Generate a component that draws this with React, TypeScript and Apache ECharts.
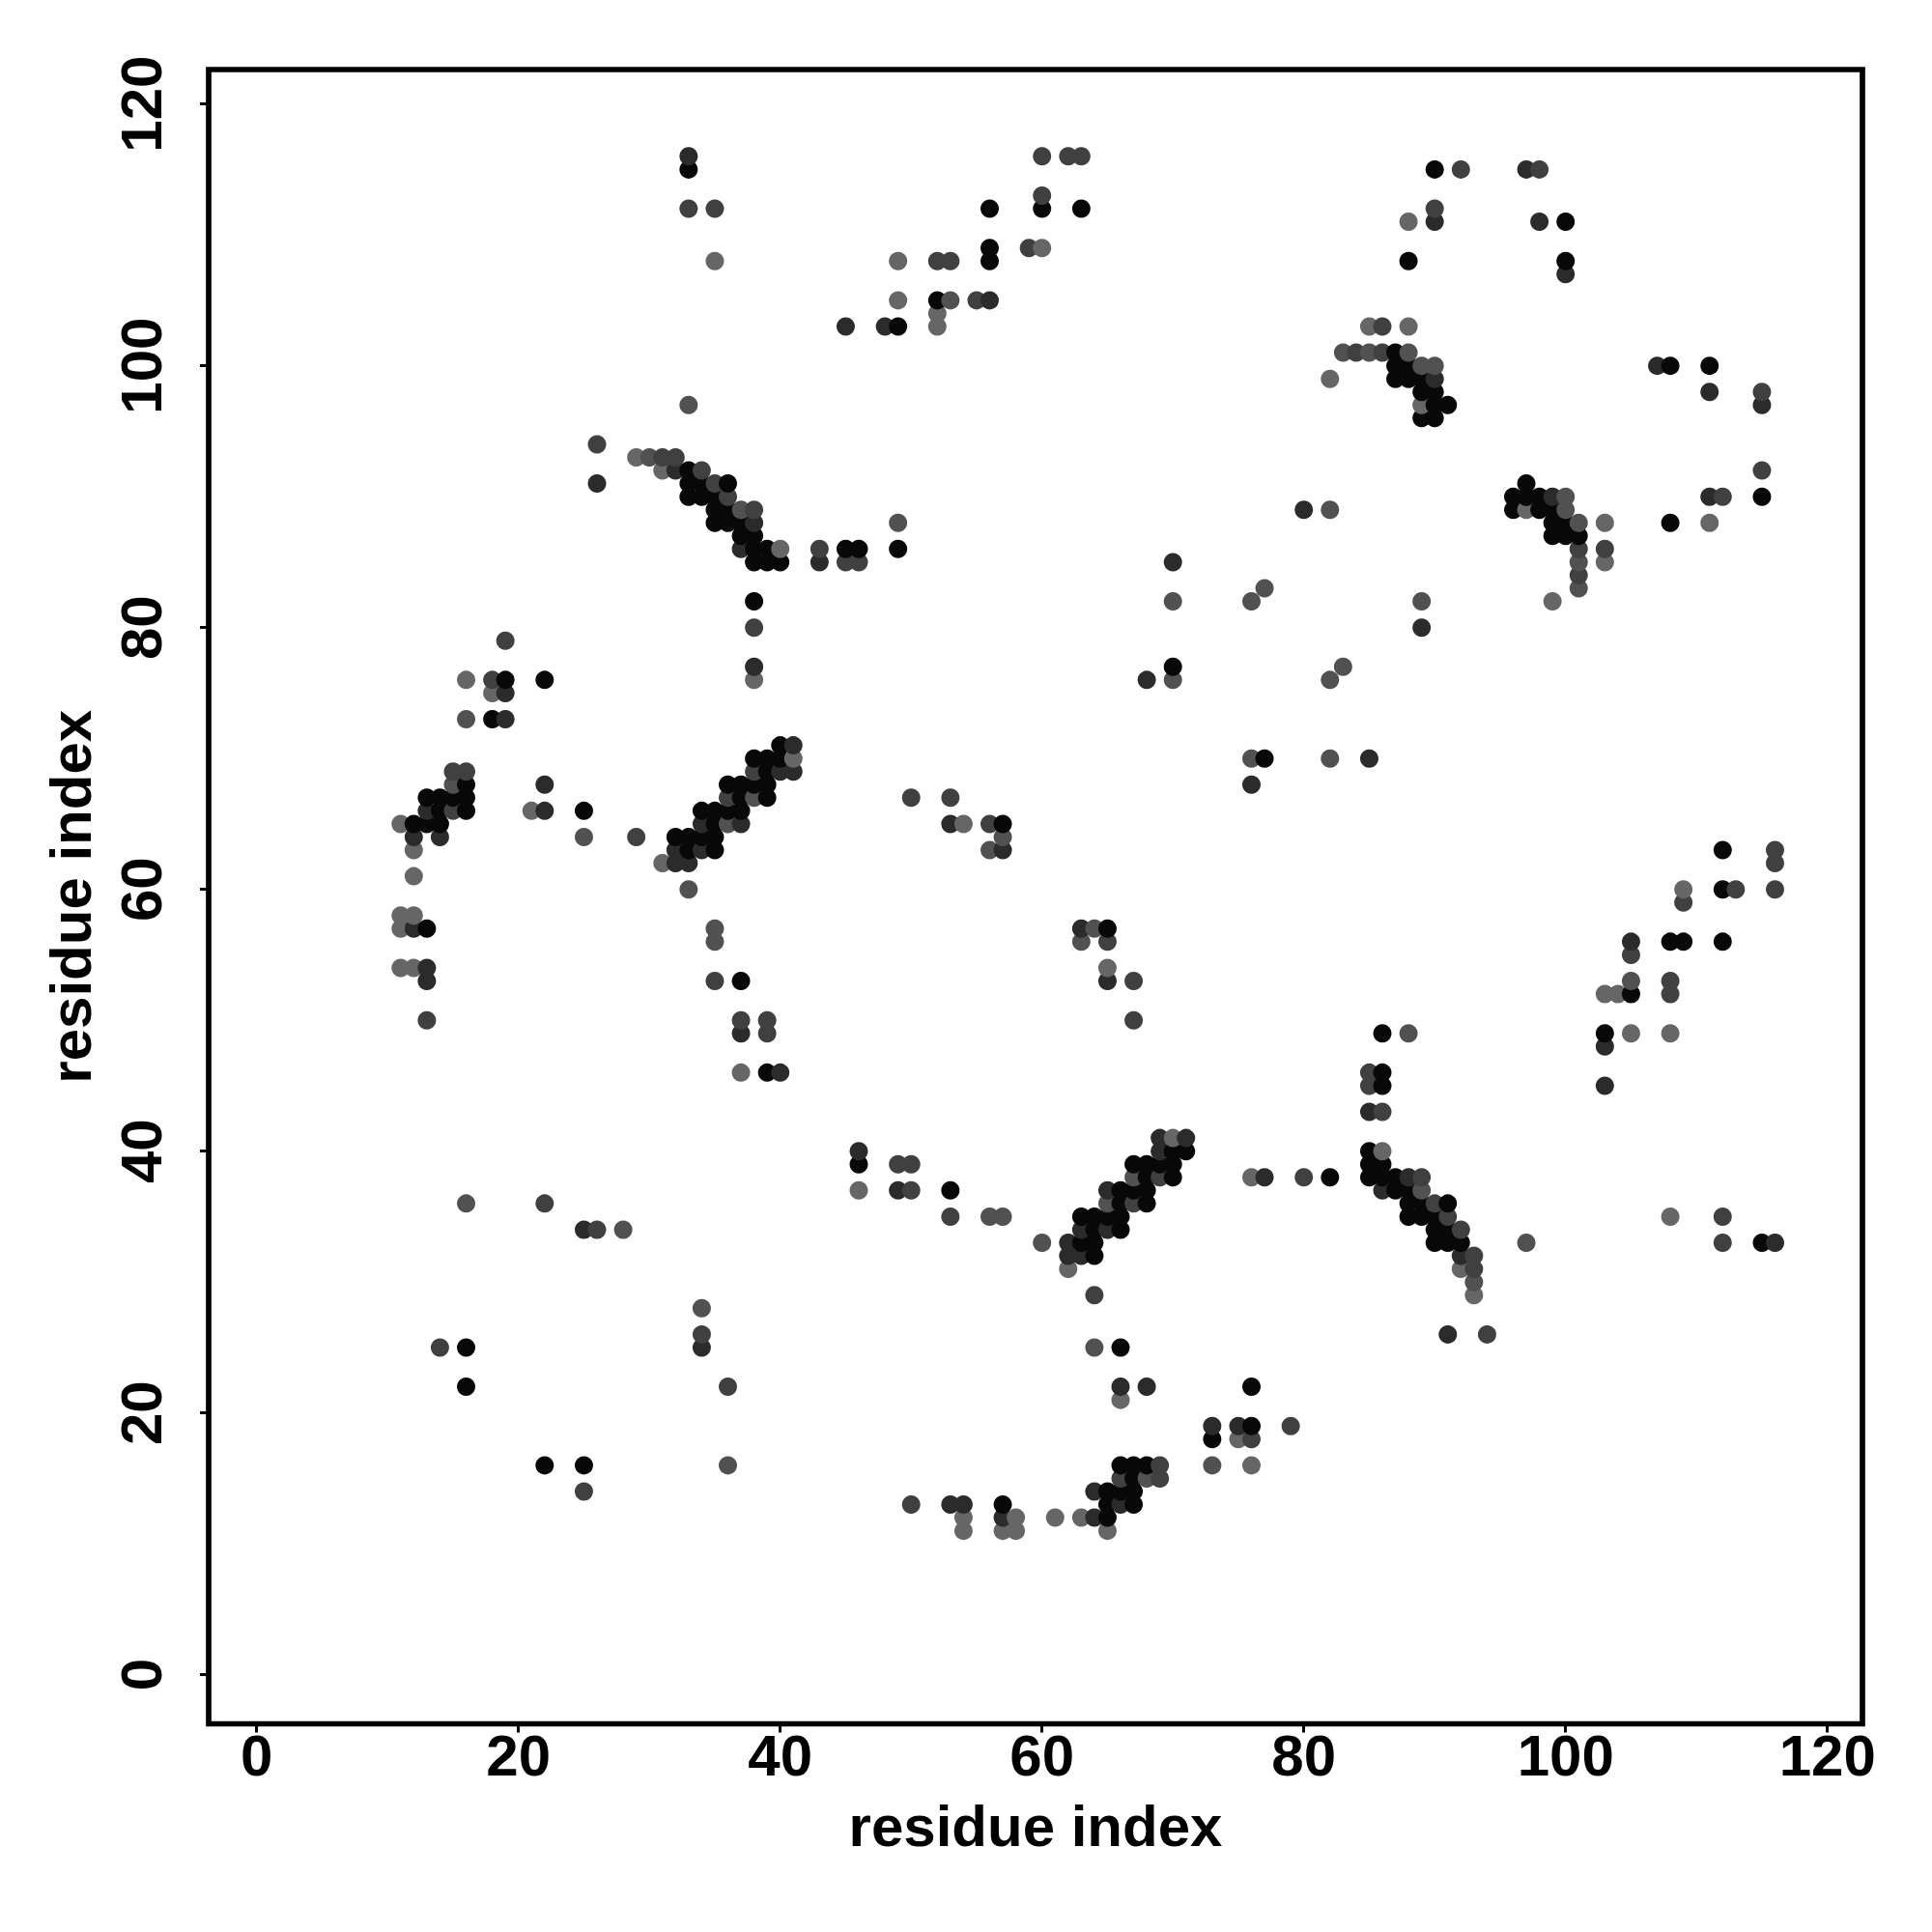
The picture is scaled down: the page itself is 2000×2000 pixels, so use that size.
import React, { useEffect, useRef } from "react";
import * as echarts from "echarts";

const xTicks = [0, 20, 40, 60, 80, 100, 120];
const yTicks = [0, 20, 40, 60, 80, 100, 120];
const xTitle = "residue index";
const yTitle = "residue index";

// Contacts as [i, j] with i < j; the map is symmetric.
const blackPairs = [
  [16,68],[13,67],[14,67],[15,67],[16,67],[14,66],[16,66],[12,65],[13,65],[14,65],[13,57],[19,76],[18,73],[22,76],[16,22],[16,25],[25,66],
  [38,70],[39,70],[40,70],[39,69],[36,68],[37,68],[38,68],[39,68],[37,67],[39,67],[34,66],[35,66],[36,66],[37,66],[35,65],[32,64],[33,64],[34,64],[35,64],[33,63],[35,63],[40,71],
  [33,92],[33,91],[34,91],[36,91],[33,90],[34,90],[35,90],[35,89],[36,89],[35,88],[36,88],[37,88],[37,87],[38,87],[38,86],[39,86],[38,85],[39,85],[40,85],
  [45,86],[46,86],[49,86],[38,82],[33,115],[60,112],[63,112],[56,112],[56,109],[56,108],[52,105],[49,103],[37,53],[39,46],[57,65],[70,77],
  [87,101],[87,100],[88,100],[87,99],[88,99],[89,99],[89,98],[90,98],[90,97],[91,97],[89,96],[90,96],
  [96,90],[97,90],[98,90],[96,89],[98,89],[99,89],[99,88],[100,88],[99,87],[100,87],[101,87],
  [100,108],[100,111],[90,115],[88,108],[16,22],[22,16],
];
const darkPairs = [
  [12,64],[14,64],[13,66],[22,66],[13,53],[19,75],[19,73],[13,54],[12,57],[22,68],[25,34],
  [41,71],[40,69],[41,69],[37,65],[34,65],[32,63],[34,63],[32,62],[33,62],[32,92],[37,86],[38,88],
  [43,85],[33,116],[45,103],[48,103],[56,105],[57,63],[53,65],[68,76],[70,85],[80,89],
  [90,99],[100,107],[98,111],[97,115],[90,111],[26,91],[37,49],[40,46],[38,77],
];
const midPairs = [
  [15,69],[16,69],[15,66],[29,64],[18,76],[19,79],[13,50],[14,25],[22,36],[26,34],
  [38,69],[36,67],[31,93],[32,93],[34,92],[35,91],[36,90],[38,89],[43,86],[45,85],[46,85],[38,80],[26,94],
  [33,112],[35,112],[60,116],[62,116],[63,116],[52,108],[53,108],[55,105],[50,67],[53,67],[56,65],[37,50],[39,50],[39,49],[35,53],
  [84,101],[86,101],[86,103],[59,109],[60,113],[90,112],[92,115],[98,115],[92,115],[60,113],
];
const grayMidPairs = [
  [15,68],[16,73],[38,67],[36,65],[30,93],[37,89],[33,97],[49,88],[53,105],[35,56],[35,57],[57,64],[56,63],
  [25,64],[16,36],[28,34],[36,22],[33,60],[70,76],[70,82],[76,82],[77,83],[82,89],[83,101],[85,101],[88,101],[89,100],[90,100],
];
const grayPairs = [
  [11,65],[12,63],[12,61],[21,66],[11,58],[12,58],[11,57],[11,54],[12,54],[16,76],[18,75],
  [41,70],[31,62],[29,93],[31,92],[40,86],[38,76],[35,108],[60,109],[49,108],[49,105],[52,104],[52,103],[54,65],[37,46],
  [85,103],[88,103],[82,99],[89,97],[88,111],[34,28],
];

const levels: [number[][], string][] = [
  [blackPairs, "#080808"],
  [darkPairs, "#2b2b2b"],
  [midPairs, "#404040"],
  [grayMidPairs, "#515151"],
  [grayPairs, "#666666"],
];

function buildPoints() {
  const seen = new Map<string, { value: number[]; itemStyle: { color: string; opacity: number } }>();
  for (const [pairs, color] of levels) {
    for (const [a, b] of pairs) {
      for (const [i, j] of [[a, b], [b, a]]) {
        const key = `${i},${j}`;
        if (!seen.has(key)) seen.set(key, { value: [i, j], itemStyle: { color, opacity: 1 } });
      }
    }
  }
  return [...seen.values()].sort((p, q) => p.value[0] - q.value[0] || p.value[1] - q.value[1]);
}

export default function App() {
  const ref = useRef<HTMLDivElement>(null);
  useEffect(() => {
    document.body.style.margin = "0";
    const chart = echarts.init(ref.current!, null, { renderer: "svg" });
    const font = "Liberation Sans";
    const makeAxis = (ticks: number[], name: string, gap: number, rotate: number, margin: number, min: number, max: number) => ({
      type: "value" as const,
      min,
      max,
      name,
      nameLocation: "middle" as const,
      nameGap: gap,
      nameTextStyle: { fontFamily: font, fontWeight: "bold" as const, fontSize: 60, color: "#000" },
      axisLine: { show: false, onZero: false },
      splitLine: { show: false },
      axisTick: { show: true, length: 9, customValues: ticks, lineStyle: { color: "#000", width: 3 } },
      axisLabel: { show: true, rotate, margin, customValues: ticks, fontFamily: font, fontWeight: "bold" as const, fontSize: 60, color: "#000" },
    });
    chart.setOption({
      animation: false,
      backgroundColor: "#fff",
      grid: { left: 216, top: 72, width: 1712, height: 1712.5, show: true, borderColor: "#000", borderWidth: 5.7, backgroundColor: "transparent" },
      xAxis: makeAxis(xTicks, xTitle, 76, 0, 3, -3.67, 122.68),
      yAxis: makeAxis(yTicks, yTitle, 113, 90, 40, -3.75, 122.63),
      series: [{ type: "scatter", symbol: "circle", symbolSize: 19, itemStyle: { opacity: 1 }, data: buildPoints() }],
    });
    return () => chart.dispose();
  }, []);
  return <div ref={ref} style={{ position: "absolute", left: 0, top: 0, width: 2000, height: 2000 }} />;
}
